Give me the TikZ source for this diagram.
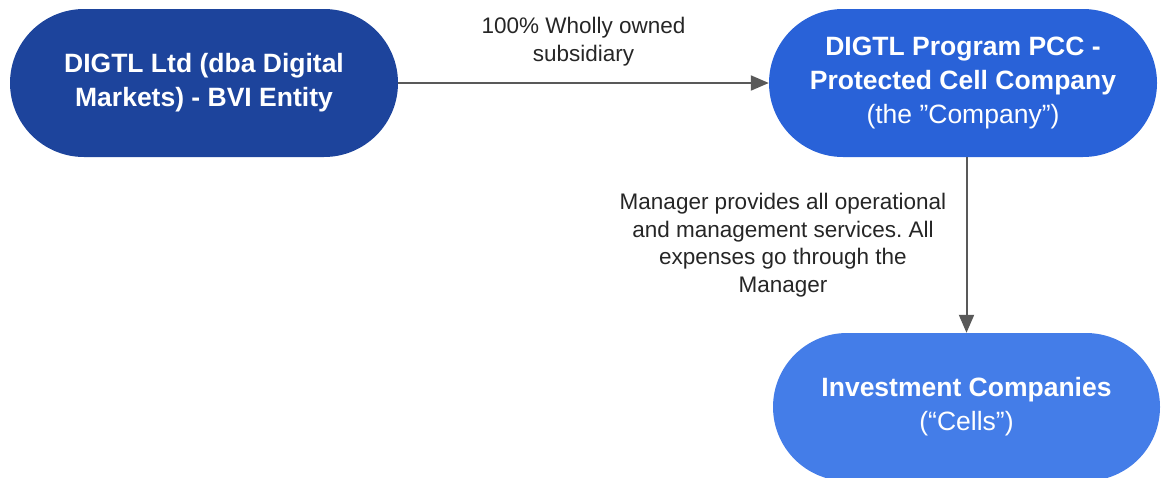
\documentclass[tikz,border=0pt]{standalone}
\usepackage{fontspec}
\setmainfont{Liberation Sans}
\usetikzlibrary{arrows.meta}
\frenchspacing

% Colores
\definecolor{azulosc}{HTML}{1D449C}
\definecolor{azulmed}{HTML}{2962D8}
\definecolor{azulcla}{HTML}{447DE8}
\definecolor{gris}{HTML}{595959}

\begin{document}
\begin{tikzpicture}[x=1pt, y=-1pt,
    entidad/.style={draw=none, text=white, align=center, inner sep=0pt,
      minimum width=388pt, minimum height=148pt, rounded corners=74pt,
      font=\fontsize{26.5}{34}\selectfont\bfseries},
    flecha/.style={draw=gris, line width=2pt, -{Triangle[length=18pt, width=15pt]}},
    etiqueta/.style={align=center, text=black!85, font=\fontsize{22.5}{27.5}\selectfont}]

    \useasboundingbox (0,0) rectangle (1161,477);

    % Entidades
    \node[entidad, fill=azulosc] (digtl) at (204,83) {DIGTL Ltd (dba Digital\\Markets) - BVI Entity};
    \node[entidad, fill=azulmed] (pcc) at (963,83) {DIGTL Program PCC -\\Protected Cell Company\\{\mdseries (the ”Company”)}};
    \node[entidad, fill=azulcla, minimum width=387pt] (celdas) at (966.5,407) {Investment Companies\\{\mdseries (“Cells”)}};

    % Flechas con sus etiquetas
    \draw[flecha] (digtl) -- (pcc) node[midway, above=13pt, etiqueta] {100\% Wholly owned\\subsidiary}; % Filial
    \draw[flecha] (celdas.north |- pcc.south) -- (celdas.north)
      node[midway, left=16pt, etiqueta] {Manager provides all operational\\and management services. All\\expenses go through the\\Manager}; % Gestor

\end{tikzpicture}
\end{document}
